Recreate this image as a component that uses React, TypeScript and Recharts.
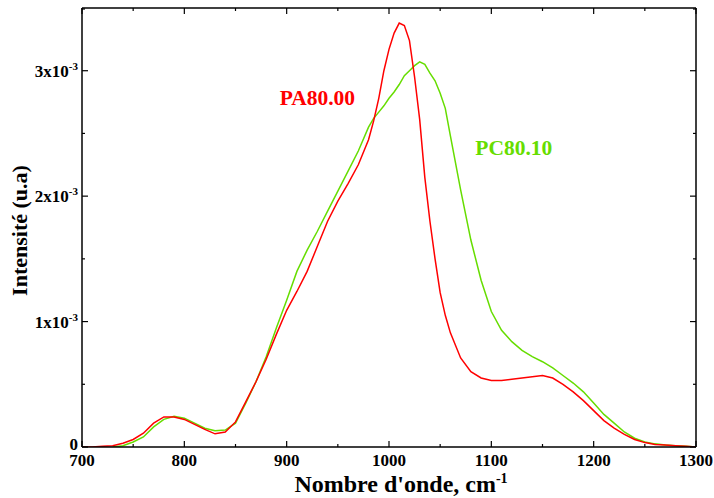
import React from "react";
import { LineChart, Line, XAxis, YAxis, ReferenceDot, Label } from "recharts";

// Wavenumber (cm^-1)
const wavenumbers = [
  700, 710, 720, 730, 740, 750, 760, 770, 780, 790, 800, 810, 820, 830, 840, 850, 860, 870, 880, 890,
  900, 910, 920, 930, 940, 950, 960, 970, 980, 985, 990, 995, 1000, 1005, 1010, 1015, 1020, 1025,
  1030, 1035, 1040, 1045, 1050, 1055, 1060, 1070, 1080, 1090, 1100, 1110, 1120, 1130, 1140, 1150,
  1160, 1170, 1180, 1190, 1200, 1210, 1220, 1230, 1240, 1250, 1260, 1270, 1280, 1290, 1300,
];

// Intensity in units of 1e-3
const pa8000 = [
  0, 0, 0.005, 0.01, 0.03, 0.06, 0.11, 0.19, 0.24, 0.24, 0.22, 0.18, 0.14, 0.105, 0.12, 0.2, 0.36, 0.52, 0.7, 0.9,
  1.09, 1.24, 1.4, 1.6, 1.8, 1.96, 2.1, 2.25, 2.45, 2.6, 2.78, 3.0, 3.17, 3.3, 3.38, 3.36, 3.24, 2.95,
  2.61, 2.15, 1.8, 1.5, 1.23, 1.05, 0.91, 0.71, 0.6, 0.55, 0.53, 0.53, 0.54, 0.55, 0.56, 0.57,
  0.55, 0.5, 0.44, 0.37, 0.29, 0.21, 0.15, 0.1, 0.06, 0.035, 0.02, 0.015, 0.01, 0.005, 0,
];

const pc8010: (number | null)[] = [
  null, null, null, 0, 0.01, 0.04, 0.08, 0.16, 0.22, 0.245, 0.23, 0.19, 0.15, 0.13, 0.135, 0.19, 0.35, 0.52, 0.72, 0.95,
  1.17, 1.4, 1.57, 1.72, 1.88, 2.04, 2.2, 2.36, 2.55, 2.62, 2.67, 2.72, 2.78, 2.83, 2.89, 2.96, 3.0, 3.04,
  3.07, 3.05, 2.98, 2.92, 2.82, 2.7, 2.48, 2.05, 1.65, 1.33, 1.08, 0.93, 0.84, 0.77, 0.72, 0.68,
  0.63, 0.57, 0.51, 0.44, 0.35, 0.26, 0.19, 0.12, 0.07, 0.04, 0.025, 0.015, 0.01, 0.005, 0,
];

const xTicks = [700, 750, 800, 850, 900, 950, 1000, 1050, 1100, 1150, 1200, 1250, 1300];
const yTicks = [0, 0.5, 1, 1.5, 2, 2.5, 3, 3.5];

const data = wavenumbers.map((w, i) => ({ w, pa: pa8000[i], pc: pc8010[i] }));

const FONT = "Liberation Serif, Times New Roman, Times, DejaVu Serif, serif";
const RED = "#ff0000";
const GREEN = "#66dd00";

const txtStyle = { fontFamily: FONT, fontWeight: 700 as const };

const BottomTick = (props: any) => {
  const { x, y, payload } = props;
  const major = payload.value % 100 === 0;
  return (
    <g>
      <line x1={x} x2={x} y1={y} y2={y - (major ? 6 : 3)} stroke="#000" strokeWidth={1.2} />
      {major && (
        <text x={x} y={y + 19} textAnchor="middle" style={{ ...txtStyle, fontSize: 17 }} fill="#000">
          {payload.value}
        </text>
      )}
    </g>
  );
};

const TopTick = (props: any) => {
  const { x, y, payload } = props;
  const major = payload.value % 100 === 0;
  return <line x1={x} x2={x} y1={y} y2={y + (major ? 6 : 3)} stroke="#000" strokeWidth={1.2} />;
};

const LeftTick = (props: any) => {
  const { x, y, payload } = props;
  const v = payload.value;
  const major = Number.isInteger(v);
  const showLabel = major && v <= 3;
  return (
    <g>
      <line x1={x} x2={x + (major ? 6 : 3)} y1={y} y2={y} stroke="#000" strokeWidth={1.2} />
      {showLabel && (
        <text x={x - 4} y={y + (v === 0 ? 3 : 6)} textAnchor="end" style={{ ...txtStyle, fontSize: 17 }} fill="#000">
          {v === 0 ? (
            "0"
          ) : (
            <>
              {`${v}x10`}
              <tspan dy={-7} style={{ fontSize: 11 }}>-3</tspan>
            </>
          )}
        </text>
      )}
    </g>
  );
};

const RightTick = (props: any) => {
  const { x, y, payload } = props;
  const major = Number.isInteger(payload.value);
  return <line x1={x} x2={x - (major ? 6 : 3)} y1={y} y2={y} stroke="#000" strokeWidth={1.2} />;
};

const XTitle = (props: any) => {
  const vb = props.viewBox;
  return (
    <text x={vb.x + vb.width / 2 + 12} y={vb.y + 45} textAnchor="middle" style={{ ...txtStyle, fontSize: 24 }} fill="#000">
      Nombre d'onde, cm
      <tspan dy={-9} style={{ fontSize: 14 }}>-1</tspan>
    </text>
  );
};

const YTitle = (props: any) => {
  const vb = props.viewBox;
  const cx = 27;
  const cy = vb.y + vb.height / 2 + 3;
  return (
    <text x={cx} y={cy} transform={`rotate(-90, ${cx}, ${cy})`} textAnchor="middle" style={{ ...txtStyle, fontSize: 22 }} fill="#000">
      Intensité (u.a)
    </text>
  );
};

const TextLabel = (color: string, text: string) => (props: any) => {
  const vb = props.viewBox;
  return (
    <text x={vb.x} y={vb.y + 8} textAnchor="middle" style={{ ...txtStyle, fontSize: 21.5 }} fill={color}>
      {text}
    </text>
  );
};

export default function App() {
  return (
    <div style={{ position: "absolute", left: 0, top: 0, background: "#fff" }}>
      <LineChart width={714} height={498} data={data} margin={{ top: 7, right: 17, bottom: 0, left: 0 }}>
        <XAxis
          dataKey="w"
          type="number"
          domain={[700, 1300]}
          ticks={xTicks}
          xAxisId="b"
          orientation="bottom"
          height={51}
          tickSize={0}
          tickMargin={0}
          tick={<BottomTick />}
          axisLine={{ stroke: "#000", strokeWidth: 1.5 }}
          allowDataOverflow
        >
          <Label content={<XTitle />} />
        </XAxis>
        <XAxis
          dataKey="w"
          type="number"
          domain={[700, 1300]}
          ticks={xTicks}
          xAxisId="t"
          orientation="top"
          height={1}
          tickSize={0}
          tickMargin={0}
          tick={<TopTick />}
          axisLine={{ stroke: "#000", strokeWidth: 1.5 }}
          allowDataOverflow
        />
        <YAxis
          yAxisId="l"
          orientation="left"
          type="number"
          domain={[0, 3.5]}
          ticks={yTicks}
          width={82}
          tickSize={0}
          tickMargin={0}
          tick={<LeftTick />}
          axisLine={{ stroke: "#000", strokeWidth: 1.5 }}
          allowDataOverflow
        >
          <Label content={<YTitle />} />
        </YAxis>
        <YAxis
          yAxisId="r"
          orientation="right"
          type="number"
          domain={[0, 3.5]}
          ticks={yTicks}
          width={1}
          tickSize={0}
          tickMargin={0}
          tick={<RightTick />}
          axisLine={{ stroke: "#000", strokeWidth: 1.5 }}
          allowDataOverflow
        />
        <Line
          xAxisId="b"
          yAxisId="l"
          type="linear"
          dataKey="pc"
          stroke={GREEN}
          strokeWidth={1.5}
          dot={false}
          isAnimationActive={false}
          connectNulls={false}
        />
        <Line
          xAxisId="b"
          yAxisId="l"
          type="linear"
          dataKey="pa"
          stroke={RED}
          strokeWidth={1.5}
          dot={false}
          isAnimationActive={false}
        />
        <ReferenceDot xAxisId="b" yAxisId="l" x={930} y={2.79} r={0} fill="none" stroke="none" label={TextLabel(RED, "PA80.00")} />
        <ReferenceDot xAxisId="b" yAxisId="l" x={1122} y={2.39} r={0} fill="none" stroke="none" label={TextLabel(GREEN, "PC80.10")} />
      </LineChart>
    </div>
  );
}
